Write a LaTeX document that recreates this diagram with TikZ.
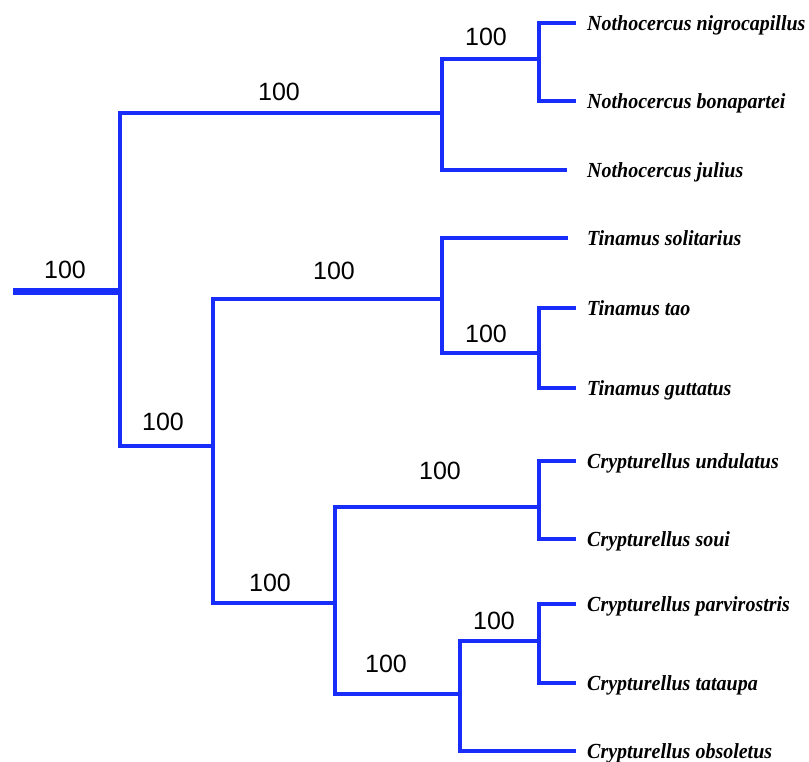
\documentclass[tikz,border=0pt]{standalone}
\usepackage{fontspec}
\setmainfont{Liberation Serif}
\newfontfamily\supportfont{Liberation Sans}
\definecolor{treeblue}{RGB}{25,45,250}
\tikzset{
  branch/.style={draw=treeblue, line width=4pt, line join=miter},
  rootbranch/.style={branch, line width=7pt},
  leaf/.style={anchor=west, inner sep=0pt, text height=14pt, text depth=0pt, xscale=0.93,
    font=\fontsize{21.5}{24}\selectfont\bfseries\itshape},
  support/.style={inner sep=0pt, font=\supportfont\fontsize{25}{30}\selectfont},
}
\begin{document}
\begin{tikzpicture}[x=1pt,y=-1pt]
  \useasboundingbox (0,0) rectangle (809,761);
  % inner nodes of the tree
  \coordinate (r) at (13,291);
  \coordinate (n0) at (120,291);
  \coordinate (n1) at (442,113);
  \coordinate (n2) at (539,59);
  \coordinate (n3) at (213,446);
  \coordinate (n4) at (442,299);
  \coordinate (n5) at (539,353);
  \coordinate (n6) at (335,603);
  \coordinate (n7) at (539,507);
  \coordinate (n8) at (460,694);
  \coordinate (n9) at (539,641);
  % taxa
  \node[leaf] (nig) at (587,23) {Nothocercus nigrocapillus};
  \node[leaf] (bon) at (587,101) {Nothocercus bonapartei};
  \node[leaf] (jul) at (587,170) {Nothocercus julius};
  \node[leaf] (sol) at (587,238) {Tinamus solitarius};
  \node[leaf] (tao) at (587,308) {Tinamus tao};
  \node[leaf] (gut) at (587,388) {Tinamus guttatus};
  \node[leaf] (und) at (587,461) {Crypturellus undulatus};
  \node[leaf] (sou) at (587,539) {Crypturellus soui};
  \node[leaf] (par) at (587,604) {Crypturellus parvirostris};
  \node[leaf] (tat) at (587,683) {Crypturellus tataupa};
  \node[leaf] (obs) at (587,751) {Crypturellus obsoletus};
  % branches
  \draw[rootbranch] (r) -- (n0);
  \begin{scope}[branch]
    \draw (n0) |- (n1);
    \draw (n0) |- (n3);
    \draw (n1) |- (n2);
    \draw[shorten >=20pt] (n1) |- (jul.west);
    \draw[shorten >=11pt] (n2) |- (nig.west);
    \draw[shorten >=11pt] (n2) |- (bon.west);
    \draw (n3) |- (n4);
    \draw (n3) |- (n6);
    \draw[shorten >=19pt] (n4) |- (sol.west);
    \draw (n4) |- (n5);
    \draw[shorten >=11pt] (n5) |- (tao.west);
    \draw[shorten >=11pt] (n5) |- (gut.west);
    \draw (n6) |- (n7);
    \draw (n6) |- (n8);
    \draw[shorten >=11pt] (n7) |- (und.west);
    \draw[shorten >=11pt] (n7) |- (sou.west);
    \draw (n8) |- (n9);
    \draw[shorten >=11pt] (n8) |- (obs.west);
    \draw[shorten >=11pt] (n9) |- (par.west);
    \draw[shorten >=11pt] (n9) |- (tat.west);
  \end{scope}
  % bootstrap values
  \node[support] (s0) at (65,270) {100};
  \node[support] (s1) at (279,92) {100};
  \node[support] (s2) at (486,37) {100};
  \node[support] (s3) at (163,422) {100};
  \node[support] (s4) at (334,271) {100};
  \node[support] (s5) at (486,334) {100};
  \node[support] (s6) at (270,583) {100};
  \node[support] (s7) at (440,471) {100};
  \node[support] (s8) at (386,664) {100};
  \node[support] (s9) at (494,621) {100};
\end{tikzpicture}
\end{document}
